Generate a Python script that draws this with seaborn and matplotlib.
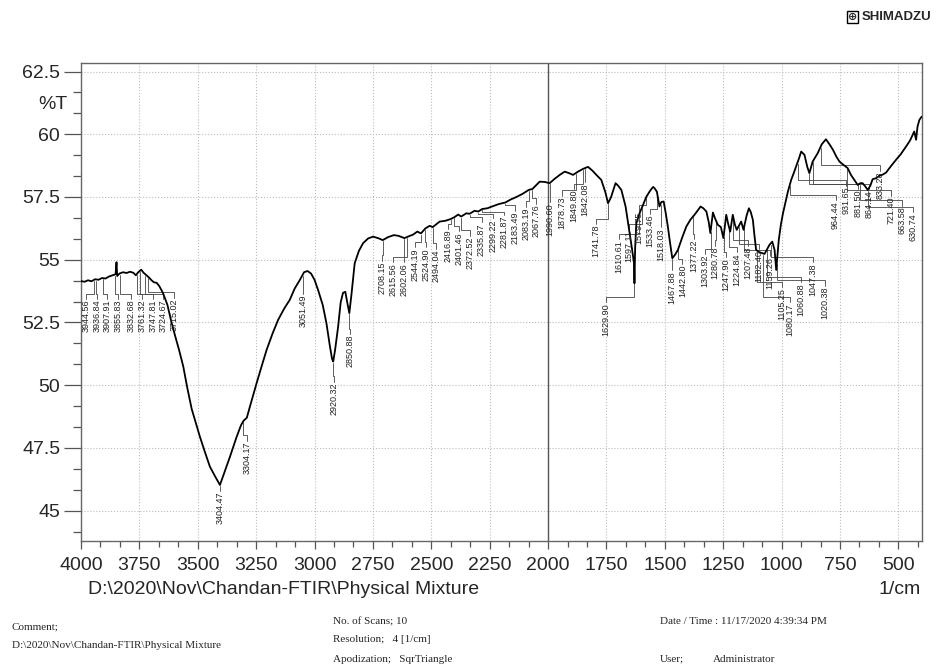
import matplotlib
matplotlib.use("Agg")
import matplotlib.pyplot as plt
import matplotlib.transforms as mtransforms
from matplotlib.ticker import MultipleLocator
import numpy as np
import pandas as pd
import seaborn as sns

# spectrum (1/cm, %T)
wavenumber = [
    4000, 3985, 3970, 3955, 3940, 3925, 3910, 3895, 3880, 3865, 3852, 3848, 3845,
    3835, 3820, 3805, 3790, 3776, 3765, 3755, 3742, 3732, 3720, 3710, 3698, 3688,
    3676, 3665, 3655, 3648, 3630, 3615, 3598, 3580, 3562, 3545, 3526, 3510, 3491,
    3470, 3448, 3425, 3405, 3385, 3362, 3335, 3315, 3304, 3290, 3275, 3248, 3225,
    3205, 3180, 3156, 3130, 3106, 3085, 3063, 3045, 3030, 3015, 3000, 2985, 2965,
    2949, 2935, 2925, 2920, 2912, 2899, 2888, 2878, 2868, 2860, 2851, 2842, 2828,
    2810, 2792, 2770, 2749, 2725, 2708, 2685, 2660, 2640, 2615, 2600, 2578, 2560,
    2544, 2525, 2507, 2494, 2464, 2440, 2417, 2400, 2385, 2372, 2350, 2336, 2315,
    2299, 2282, 2260, 2240, 2210, 2183, 2160, 2140, 2110, 2083, 2067, 2050, 2036,
    2015, 1993, 1975, 1950, 1929, 1910, 1893, 1870, 1850, 1829, 1810, 1790, 1772,
    1755, 1743, 1730, 1711, 1700, 1686, 1668, 1654, 1640, 1632, 1630, 1627, 1622,
    1608, 1597, 1579, 1565, 1558, 1550, 1544, 1534, 1523, 1515, 1505, 1496, 1487,
    1478, 1468, 1456, 1444, 1425, 1408, 1390, 1373, 1360, 1347, 1335, 1322, 1312,
    1305, 1294, 1285, 1273, 1260, 1249, 1237, 1228, 1220, 1209, 1200, 1192, 1173,
    1163, 1150, 1140, 1132, 1123, 1116, 1109, 1095, 1073, 1060, 1052, 1040, 1030,
    1023, 1012, 1003, 994, 983, 973, 959, 948, 938, 925, 916, 902, 890, 881, 867,
    855, 845, 828, 810, 795, 780, 765, 752, 735, 717, 703, 690, 674, 663, 653, 640,
    631, 620, 610, 595, 580, 565, 552, 530, 510, 490, 467, 450, 432, 424, 418, 410,
    405, 400,
]
transmittance = [
    54.15, 54.12, 54.18, 54.14, 54.22, 54.20, 54.27, 54.25, 54.33, 54.38, 54.42, 54.90, 54.35,
    54.45, 54.50, 54.47, 54.52, 54.48, 54.38, 54.50, 54.60, 54.48, 54.38, 54.30, 54.18, 54.10,
    54.08, 53.95, 53.78, 53.65, 53.20, 52.60, 52.00, 51.40, 50.74, 49.90, 49.05, 48.55, 47.95,
    47.35, 46.75, 46.35, 46.02, 46.55, 47.15, 47.90, 48.40, 48.58, 48.70, 49.20, 50.08, 50.80,
    51.41, 52.05, 52.60, 53.05, 53.40, 53.85, 54.19, 54.50, 54.55, 54.45, 54.20, 53.80, 53.20,
    52.47, 51.60, 51.05, 50.94, 51.40, 52.33, 53.30, 53.68, 53.72, 53.30, 52.87, 53.60, 54.86,
    55.35, 55.66, 55.85, 55.92, 55.85, 55.78, 55.90, 55.98, 55.95, 55.86, 55.92, 56.00, 56.12,
    56.05, 56.25, 56.35, 56.30, 56.52, 56.55, 56.62, 56.70, 56.80, 56.72, 56.85, 56.83, 56.95,
    56.92, 57.02, 57.05, 57.12, 57.22, 57.28, 57.40, 57.48, 57.62, 57.78, 57.82, 57.98, 58.11,
    58.10, 58.05, 58.20, 58.38, 58.51, 58.45, 58.38, 58.52, 58.62, 58.70, 58.55, 58.35, 58.18,
    57.70, 57.25, 57.50, 58.05, 57.95, 57.78, 57.12, 56.26, 55.40, 54.86, 54.06, 55.50, 56.45,
    56.85, 57.10, 57.51, 57.72, 57.81, 57.90, 57.85, 57.71, 57.12, 57.30, 57.32, 56.85, 56.32,
    55.70, 55.06, 55.20, 55.39, 55.90, 56.32, 56.60, 56.79, 56.95, 57.12, 57.05, 56.92, 56.50,
    56.06, 56.88, 56.65, 56.39, 56.30, 55.86, 56.79, 56.40, 56.12, 56.79, 56.40, 56.19, 56.52,
    56.19, 56.75, 57.05, 56.90, 56.59, 55.95, 55.39, 55.30, 55.23, 55.45, 55.59, 55.72, 55.39,
    54.59, 55.79, 56.40, 56.85, 57.30, 57.71, 58.18, 58.45, 58.71, 59.05, 59.31, 59.18, 58.70, 58.45, 58.91,
    59.10, 59.25, 59.60, 59.80, 59.60, 59.38, 59.10, 58.91, 58.78, 58.65, 58.38, 58.20, 57.98, 58.05, 58.05, 57.90,
    57.78, 57.95, 58.21, 58.25, 58.35, 58.40, 58.48, 58.75, 58.98, 59.20, 59.51, 59.75, 60.11, 59.78, 60.30, 60.57,
    60.64, 60.70,
]

peak_labels = [
    "3944.56", "3936.84", "3907.91", "3855.83", "3832.68", "3761.32", "3747.81", "3724.67", "3715.02",
    "3404.47", "3304.17", "3051.49", "2920.32", "2850.88",
    "2708.15", "2615.56", "2602.06", "2544.19", "2524.90", "2494.04", "2416.89", "2401.46",
    "2372.52", "2335.87", "2299.22", "2281.87", "2183.49", "2083.19", "2067.76",
    "1990.60", "1878.73", "1849.80", "1842.08", "1741.78", "1629.90", "1610.61", "1597.11",
    "1579.75", "1533.46", "1518.03", "1467.88", "1442.80", "1377.22", "1303.92", "1280.78",
    "1247.90", "1224.84", "1207.48", "1182.40", "1159.26", "1105.25", "1080.17", "1060.88",
    "1047.38", "1020.38", "964.44", "931.65", "881.50", "864.14", "833.28", "721.40",
    "663.58", "630.74",
]

# where each label text sits (wavenumber of text, %T of text top)
label_x = [
    3979, 3930, 3887, 3840, 3787, 3740, 3693, 3648, 3602,
    3405, 3290, 3049, 2917, 2846,
    2709, 2664, 2618, 2571, 2524, 2478, 2428, 2381,
    2333, 2285, 2236, 2190, 2143, 2096, 2050,
    1993, 1939, 1890, 1843, 1796, 1751, 1697, 1654,
    1611, 1565, 1515, 1468, 1425, 1377, 1330, 1287,
    1237, 1192, 1145, 1098, 1049, 997, 966, 916,
    867, 816, 769, 724, 674, 627, 578, 531,
    484, 439,
]
label_top = [
    53.40, 53.40, 53.40, 53.40, 53.40, 53.40, 53.40, 53.40, 53.45,
    45.75, 47.75, 53.60, 50.10, 52.00,
    54.92, 54.87, 54.87, 55.46, 55.46, 55.40, 56.19, 56.10,
    55.92, 56.45, 56.62, 56.75, 56.92, 57.08, 57.20,
    57.25, 57.51, 57.78, 58.05, 56.39, 53.27, 55.79, 56.19,
    56.92, 56.79, 56.25, 54.53, 54.79, 55.79, 55.19, 55.52,
    55.06, 55.26, 55.52, 55.39, 55.12, 53.86, 53.27, 54.06,
    54.86, 53.93, 57.32, 57.91, 57.78, 57.78, 58.51, 57.51,
    57.12, 56.85,
]

sns.set_theme(style="white")
plt.rcParams["font.family"] = ["Liberation Sans", "DejaVu Sans"]

W, H = 936, 666
fig = plt.figure(figsize=(W / 100, H / 100), dpi=100)
ax = fig.add_axes([81 / W, 1 - 540.7 / H, (921.7 - 81) / W, (540.7 - 63) / H])

spectrum = pd.DataFrame({"wavenumber": wavenumber, "T": transmittance})
sns.lineplot(data=spectrum, x="wavenumber", y="T", sort=False, estimator=None,
             color="black", linewidth=1.3, ax=ax, zorder=3)

ax.set_xlim(4000, 400)
ax.set_ylim(43.8, 62.84)
ax.set_xlabel("")
ax.set_ylabel("")

ax.xaxis.set_major_locator(MultipleLocator(250))
ax.xaxis.set_minor_locator(MultipleLocator(250 / 3))
ax.yaxis.set_major_locator(MultipleLocator(2.5))
ax.yaxis.set_minor_locator(MultipleLocator(2.5 / 3))
ax.set_xticks(np.arange(4000, 499, -250))
ax.set_yticks(np.arange(45, 62.6, 2.5))
ax.set_yticklabels([f"{v:g}" for v in np.arange(45, 62.6, 2.5)])
ax.tick_params(axis="x", which="major", direction="out", length=6, width=0.9,
               color="#555555", labelsize=14, pad=6, bottom=True)
ax.tick_params(axis="x", which="minor", direction="out", length=4, width=0.9,
               color="#555555", bottom=True)
ax.tick_params(axis="y", which="major", direction="out", length=12, width=0.9,
               color="#555555", labelsize=14, pad=3, left=True)
ax.tick_params(axis="y", which="minor", direction="out", length=6, width=0.9,
               color="#555555", left=True)
ax.grid(which="major", linestyle=":", color="#bdbdbd", linewidth=0.8)
for sp in ax.spines.values():
    sp.set_color("#666666")
    sp.set_linewidth(1.0)
ax.axvline(2000, color="#555555", linewidth=1.0, zorder=2)

# peak picks with leader lines
wn_arr = np.array(wavenumber)[::-1]
t_arr = np.array(transmittance)[::-1]
for lab, lx, top in zip(peak_labels, label_x, label_top):
    pk = float(lab)
    tc = np.interp(pk, wn_arr, t_arr)
    mid = min(top + 0.25, tc - 0.1)
    ax.plot([pk, pk, lx, lx], [tc - 0.05, mid, mid, top + 0.04],
            color="#444444", linewidth=0.6, zorder=2)
    ax.text(lx, top, lab, rotation=90, ha="center", va="top", fontsize=6.5,
            color="#222222", clip_on=True, zorder=4)

blend = mtransforms.blended_transform_factory(ax.transAxes, ax.transData)
ax.text(-0.016, 61.2, "%T", transform=blend, ha="right", va="center", fontsize=14)

fig.text(88 / W, 1 - 590 / H, r"D:\2020\Nov\Chandan-FTIR\Physical Mixture",
         fontsize=14, va="center", ha="left")
fig.text(921 / W, 1 - 590 / H, "1/cm", fontsize=14, va="center", ha="right")

# header logo
fig.text(931 / W, 1 - 17 / H, "SHIMADZU", fontsize=9.5, weight="bold",
         ha="right", va="center")
fig.text(857 / W, 1 - 17 / H, "\u2295", fontsize=8, ha="right", va="center",
         family=["DejaVu Sans"], weight="bold",
         bbox=dict(boxstyle="square,pad=0.08", fc="none", ec="black", lw=1.0))

# footer block
serif = ["Liberation Serif", "DejaVu Serif"]
footer = [
    (12, 627, "Comment;"),
    (12, 645, r"D:\2020\Nov\Chandan-FTIR\Physical Mixture"),
    (333, 622, "No. of Scans; 10"),
    (333, 640, "Resolution;   4 [1/cm]"),
    (333, 659, "Apodization;   SqrTriangle"),
    (660, 622, "Date / Time : 11/17/2020 4:39:34 PM"),
    (660, 659, "User;"),
    (713, 659, "Administrator"),
]
for fx, fy, txt in footer:
    fig.text(fx / W, 1 - fy / H, txt, fontsize=8, family=serif, ha="left", va="center")

fig.savefig("out.png", dpi=100)
